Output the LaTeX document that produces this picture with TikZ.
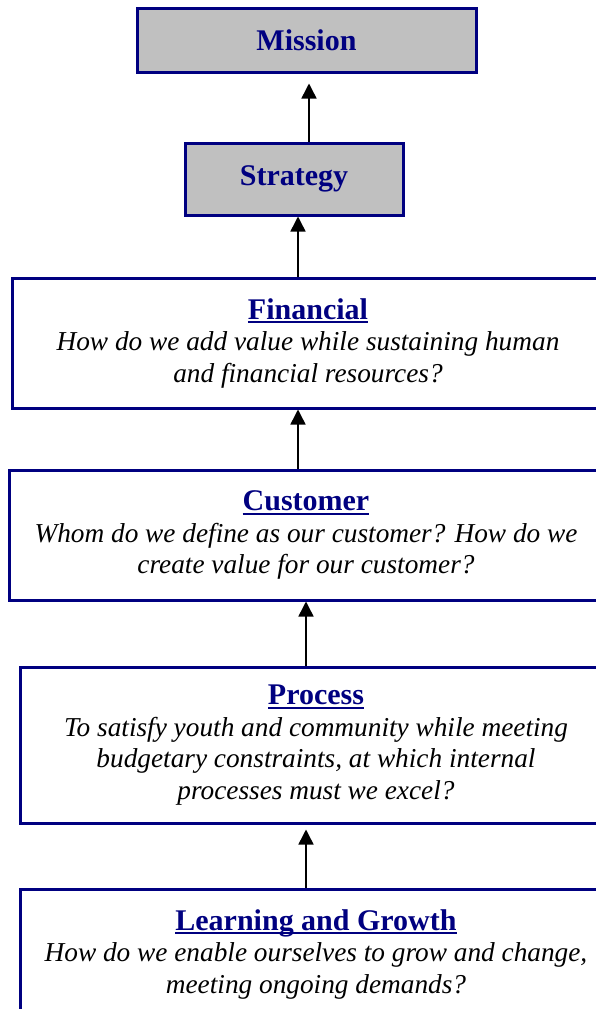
\documentclass[tikz,border=0pt]{standalone}
\usepackage{fontspec}
\setmainfont{Liberation Serif}
\usepackage{tikz}
\usetikzlibrary{arrows.meta, calc, positioning}
\definecolor{navy}{RGB}{0,0,128}
\definecolor{boxgray}{RGB}{192,192,192}
\newsavebox{\headbox}
\newcommand{\headtxt}[1]{{\fontsize{30}{31.5}\selectfont\upshape\bfseries\color{navy}%
  \sbox{\headbox}{#1}\usebox{\headbox}\llap{\rule[-4pt]{\wd\headbox}{1.8pt}}}}

\begin{document}
\begin{tikzpicture}[x=1pt,y=-1pt,
    gbox/.style={draw=navy, line width=3pt, fill=boxgray, inner sep=0pt,
      font=\fontsize{30}{34}\selectfont\bfseries, text=navy},
    pbox/.style={draw=navy, line width=3pt, fill=white, inner sep=0pt,
      minimum height=130pt, align=center,
      font=\fontsize{27.3}{31.5}\selectfont\itshape},
    arr/.style={-{Triangle[width=15pt,length=15pt]}, line width=1.5pt}]
	\useasboundingbox (0,0) rectangle (596,1009);

	% top boxes
	\node[gbox, minimum width=339pt, minimum height=64pt] (mission) at (306.5,40) {Mission};
	\node[gbox, minimum width=218pt, minimum height=72pt] (strategy) at (294,179) {Strategy};

	% perspective boxes
	\node[pbox, minimum width=592pt] (financial) at (308,343)
	  {\headtxt{Financial}\\
	   How do we add value while sustaining human\\
	   and financial resources?};
	\node[pbox, minimum width=593pt] (customer) at (306,535)
	  {\headtxt{Customer}\\
	   Whom do we define as our customer? How do we\\
	   create value for our customer?};
	\node[pbox, minimum width=592pt, minimum height=156pt] (process) at (316,745)
	  {\headtxt{Process}\\
	   To satisfy youth and community while meeting\\
	   budgetary constraints, at which internal\\
	   processes must we excel?};
	\node[pbox, minimum width=592pt] (learning) at (316,954)
	  {\headtxt{Learning and Growth}\\
	   How do we enable ourselves to grow and change,\\
	   meeting ongoing demands?};

	% arrows
	\draw[arr, shorten >=10pt] ([xshift=15pt]strategy.north) -- ([xshift=2.5pt]mission.south);
	\draw[arr] ([xshift=-10pt]financial.north) -- ([xshift=4pt]strategy.south);
	\draw[arr] ([xshift=-8pt]customer.north) -- ([xshift=-10pt]financial.south);
	\draw[arr] ([xshift=-10pt]process.north) -- (customer.south);
	\draw[arr, shorten >=5pt] ([xshift=-10pt]learning.north) -- ([xshift=-10pt]process.south);
\end{tikzpicture}
\end{document}
